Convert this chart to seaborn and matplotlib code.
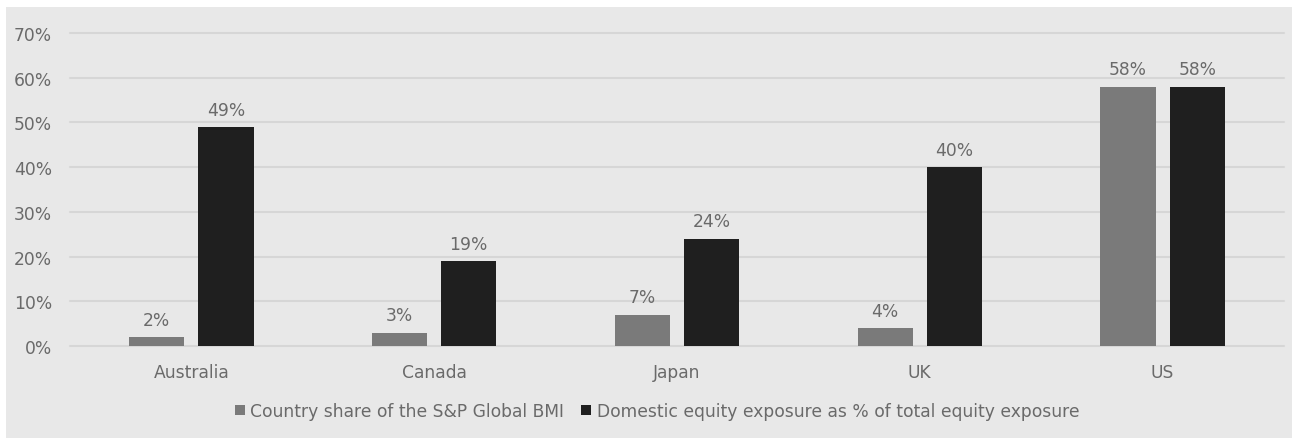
import matplotlib
matplotlib.use("Agg")
import matplotlib.pyplot as plt
import seaborn as sns
import pandas as pd
from matplotlib.patches import Rectangle

countries = ["Australia", "Canada", "Japan", "UK", "US"]
series_names = ["Country share of the S&P Global BMI",
                "Domestic equity exposure as % of total equity exposure"]
bmi_share = [2, 3, 7, 4, 58]
domestic_exposure = [49, 19, 24, 40, 58]
y_ticks = [0, 10, 20, 30, 40, 50, 60, 70]

df = pd.DataFrame({
    "country": countries * 2,
    "series": [series_names[0]] * len(countries) + [series_names[1]] * len(countries),
    "value": bmi_share + domestic_exposure,
})

sns.set_theme(style="white")
plt.rcParams['font.family'] = ['DejaVu Sans']

BG = "#e8e8e8"
TXT = "#6a6a6a"
FS = 12.3

fig = plt.figure(figsize=(12.92, 4.39), dpi=100, facecolor="white")
fig.patches.append(Rectangle((6 / 1292, 0), 1 - 6 / 1292, 1 - 8 / 439,
                             transform=fig.transFigure, facecolor=BG,
                             edgecolor="none", zorder=-10))
ax = fig.add_axes([70 / 1292, 1 - 347 / 439, (1284 - 70) / 1292, (347 - 34) / 439])
ax.set_facecolor(BG)

sns.barplot(data=df, x="country", y="value", hue="series", order=countries,
            hue_order=series_names, palette=["#7a7a7a", "#1f1f1f"],
            width=0.57, gap=0.2, ax=ax, legend=True, zorder=3,
            linewidth=0, edgecolor="none")

for cont in ax.containers:
    labels = [f"{v:.0f}%" for v in cont.datavalues]
    ax.bar_label(cont, labels=labels, padding=6, color=TXT, fontsize=FS)

ax.set_ylim(0, 70)
ax.set_yticks(y_ticks)
ax.set_yticklabels([f"{t}%" for t in y_ticks])
ax.yaxis.grid(True, color="#d6d6d6", linewidth=1.5, zorder=0)
for gl in ax.get_ygridlines():
    gl.set_clip_on(False)
ax.set_axisbelow(True)
for s in ax.spines.values():
    s.set_visible(False)
ax.tick_params(axis="both", length=0, colors=TXT, labelsize=FS)
ax.tick_params(axis="y", pad=13)
ax.tick_params(axis="x", pad=12)
ax.set_xlabel("")
ax.set_ylabel("")

h, l = ax.get_legend_handles_labels()
ax.legend_.remove()
leg = fig.legend(h, l, loc="center", bbox_to_anchor=(657 / 1292, 1 - 412 / 439), ncol=2,
                 frameon=False, fontsize=FS, handlelength=0.6, handleheight=0.6,
                 handletextpad=0.3, columnspacing=1.0)
for t in leg.get_texts():
    t.set_color(TXT)

fig.savefig("out.png", dpi=100, facecolor="white")
